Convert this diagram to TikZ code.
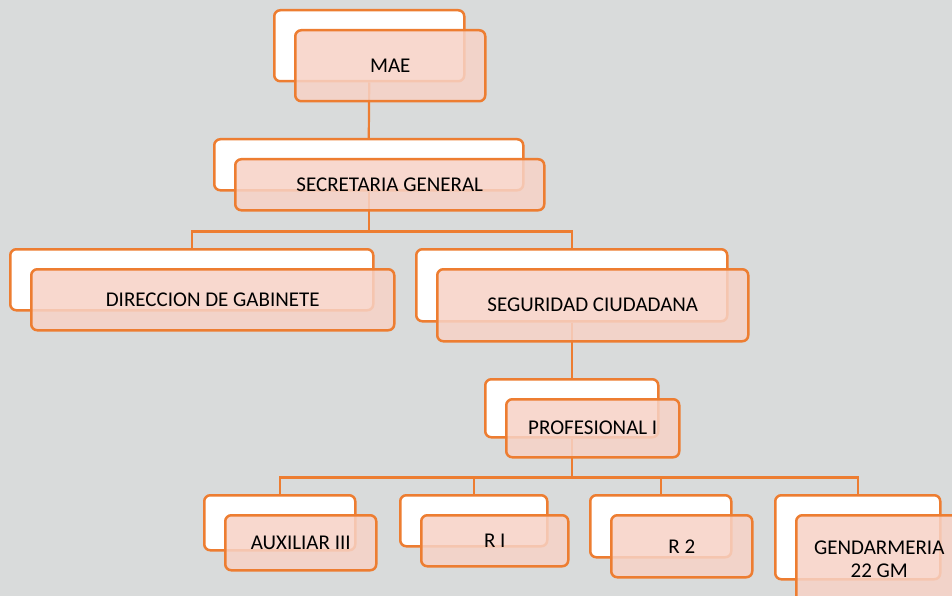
\documentclass[tikz,border=0pt]{standalone}
\usepackage{fontspec}
\setmainfont{Carlito}
\usetikzlibrary{calc}
\definecolor{org}{HTML}{ED7D31}
\definecolor{bggray}{HTML}{D9DBDB}
\definecolor{pinkfill}{RGB}{247,210,198}
\tikzset{
  box/.style={rounded corners=6pt, line width=2.5pt, draw=org, anchor=north west, inner sep=0pt},
  backbox/.style={box, fill=white},
  frontbox/.style={box, fill=pinkfill, fill opacity=0.85, text opacity=1, text=black,
    font=\fontsize{21}{23}\selectfont, align=center},
  link/.style={draw=org, line width=2.2pt},
}
\begin{document}
\begin{tikzpicture}[x=1pt,y=-1pt]
\clip (0,0) rectangle (952,596);
\fill[bggray] (0,0) rectangle (952,596);
% back boxes
\node[backbox, minimum width=190pt, minimum height=71pt] (mae) at (273,9) {};
\node[backbox, minimum width=309pt, minimum height=51pt] (sec) at (213,138) {};
\node[backbox, minimum width=363pt, minimum height=61pt] (dir) at (9,248) {};
\node[backbox, minimum width=311pt, minimum height=72pt] (seg) at (415,248) {};
\node[backbox, minimum width=173pt, minimum height=58pt] (pro) at (484,378) {};
\node[backbox, minimum width=151pt, minimum height=55pt] (aux) at (203,494) {};
\node[backbox, minimum width=147pt, minimum height=51pt] (ri) at (399,494) {};
\node[backbox, minimum width=141pt, minimum height=62pt] (rii) at (589,494) {};
\node[backbox, minimum width=165pt, minimum height=84pt] (gen) at (774,494) {};
% connectors
\coordinate (bus1) at ($(sec.south)+(0,40)$);
\coordinate (bus2) at ($(pro.south)+(0,39)$);
\draw[link] (mae.south) -- (sec.north);
\draw[link] (sec.south) -- (bus1);
\draw[link] (bus1) -| (dir.north);
\draw[link] (bus1) -| (seg.north);
\draw[link] (seg.south) -- (pro.north);
\draw[link] (pro.south) -- (bus2);
\draw[link] (bus2) -| (aux.north);
\draw[link] (bus2) -| (ri.north);
\draw[link] (bus2) -| (rii.north);
\draw[link] (bus2) -| (gen.north);
% front boxes
\node[frontbox, minimum width=190pt, minimum height=71pt] (maef) at ([shift={(21,20)}]mae.north west) {MAE};
\node[frontbox, minimum width=309pt, minimum height=51pt] (secf) at ([shift={(21,20)}]sec.north west) {SECRETARIA GENERAL};
\node[frontbox, minimum width=363pt, minimum height=61pt] (dirf) at ([shift={(21,20)}]dir.north west) {DIRECCION DE GABINETE};
\node[frontbox, minimum width=311pt, minimum height=72pt] (segf) at ([shift={(21,20)}]seg.north west) {SEGURIDAD CIUDADANA};
\node[frontbox, minimum width=173pt, minimum height=58pt] (prof) at ([shift={(21,20)}]pro.north west) {PROFESIONAL I};
\node[frontbox, minimum width=151pt, minimum height=55pt] (auxf) at ([shift={(21,20)}]aux.north west) {AUXILIAR III};
\node[frontbox, minimum width=147pt, minimum height=51pt] (rif) at ([shift={(21,20)}]ri.north west) {R I};
\node[frontbox, minimum width=141pt, minimum height=62pt] (riif) at ([shift={(21,20)}]rii.north west) {R 2};
\node[frontbox, minimum width=166pt, minimum height=88pt] (genf) at ([shift={(21,20)}]gen.north west) {GENDARMERIA\\22 GM};
\end{tikzpicture}
\end{document}
